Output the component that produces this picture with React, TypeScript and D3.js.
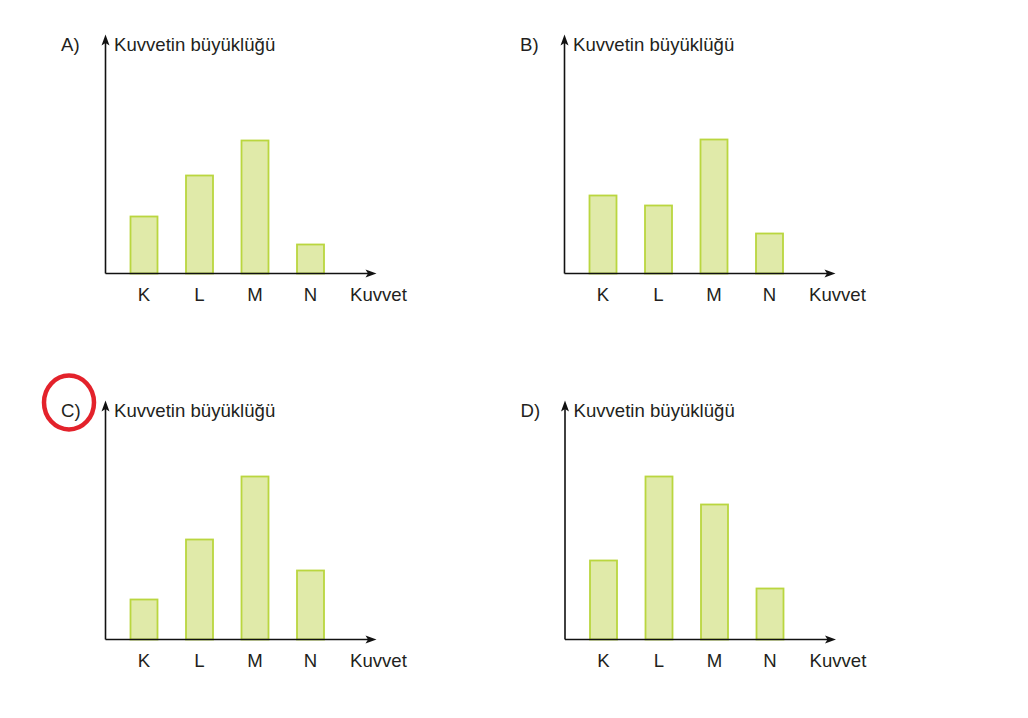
import React from "react";
import * as d3 from "d3";

const categories = ["K", "L", "M", "N"];
const panelLabels = ["A)", "B)", "C)", "D)"];
const valuesA = [57, 98, 133, 29];
const valuesB = [78, 68, 134, 40];
const valuesC = [40, 100, 163, 69];
const valuesD = [79, 163, 135, 51];
const yTitle = "Kuvvetin büyüklüğü";
const xTitle = "Kuvvet";
const circledLabel = "C)";

const W = 1028;
const H = 718;
const FONT = "'Liberation Sans', Arial, Helvetica, sans-serif";
const TEXT = "#231f20";
const FS = 18.6;

const origins = [
  { x: 105.5, y: 273.5 },
  { x: 564.5, y: 273.5 },
  { x: 105.5, y: 639.5 },
  { x: 565, y: 639.5 },
];
const series = [valuesA, valuesB, valuesC, valuesD];

function Panel({ ox, oy, label, values }: { ox: number; oy: number; label: string; values: number[] }) {
  const x = d3.scalePoint<string>().domain(categories).range([ox + 38.5, ox + 205]);
  const y = d3.scaleLinear().domain([0, 200]).range([oy, oy - 200]);
  const barW = 27;
  const yTop = oy - 239;
  const xEnd = ox + 271;
  return (
    <g>
      {values.map((v, i) => (
        <rect
          key={i}
          x={(x(categories[i]) as number) - barW / 2}
          y={y(v)}
          width={barW}
          height={y(0) - y(v)}
          fill="#e0eaa9"
          stroke="#bad63f"
          strokeWidth={1.8}
        />
      ))}
      <line x1={ox} y1={oy} x2={ox} y2={yTop + 6} stroke="#111" strokeWidth={1.6} />
      <path d={`M${ox},${yTop} L${ox - 4},${yTop + 11} L${ox},${yTop + 8.5} L${ox + 4},${yTop + 11} Z`} fill="#111" />
      <line x1={ox} y1={oy} x2={xEnd - 6} y2={oy} stroke="#111" strokeWidth={1.6} />
      <path d={`M${xEnd},${oy} L${xEnd - 11},${oy - 4} L${xEnd - 8.5},${oy} L${xEnd - 11},${oy + 4} Z`} fill="#111" />
      <text x={ox + 8.5} y={oy - 222.5} fontSize={FS} fontFamily={FONT} fill={TEXT}>
        {yTitle}
      </text>
      <text x={ox - 44.5} y={oy - 222.5} fontSize={FS} fontFamily={FONT} fill={TEXT}>
        {label}
      </text>
      {categories.map((c) => (
        <text key={c} x={x(c)} y={oy + 27} fontSize={FS} fontFamily={FONT} fill={TEXT} textAnchor="middle">
          {c}
        </text>
      ))}
      <text x={ox + 244.5} y={oy + 27} fontSize={FS} fontFamily={FONT} fill={TEXT}>
        {xTitle}
      </text>
      {label === circledLabel && (
        <ellipse cx={ox - 36.5} cy={oy - 237} rx={25} ry={27} fill="none" stroke="#e3222b" strokeWidth={4.5} />
      )}
    </g>
  );
}

export default function App() {
  return (
    <svg width={W} height={H} style={{ position: "absolute", left: 0, top: 0, background: "#fff" }}>
      <rect width={W} height={H} fill="#fff" />
      {origins.map((o, i) => (
        <Panel key={i} ox={o.x} oy={o.y} label={panelLabels[i]} values={series[i]} />
      ))}
    </svg>
  );
}
